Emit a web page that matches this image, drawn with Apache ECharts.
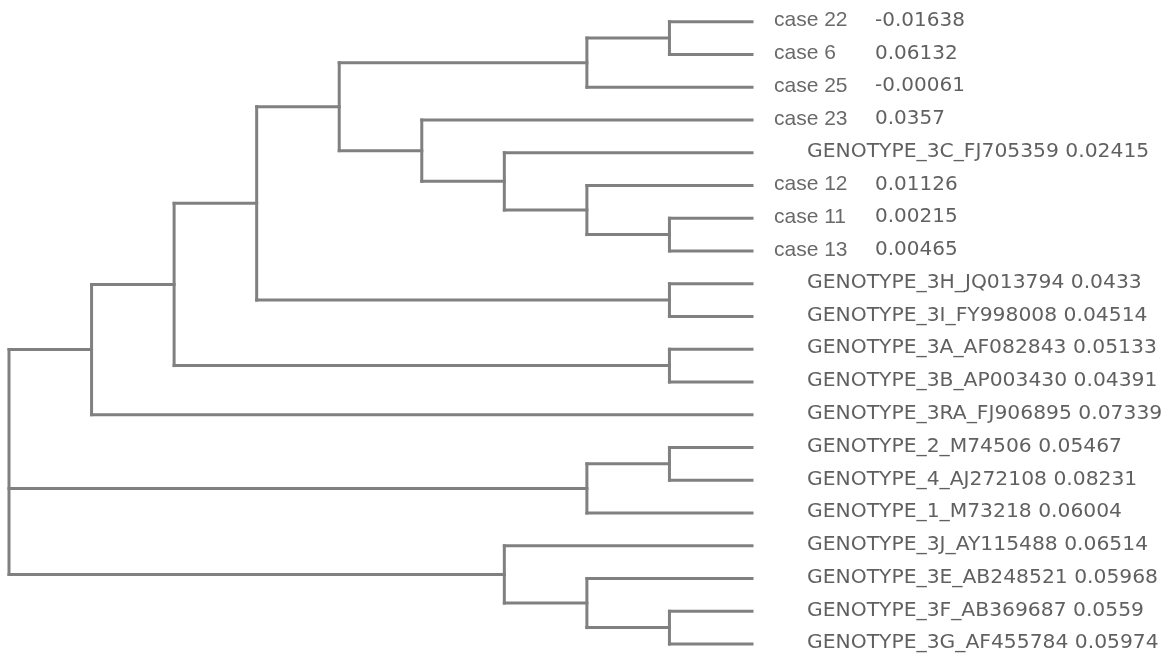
<!DOCTYPE html>
<html>
<head>
<meta charset="utf-8">
<script src="https://cdn.jsdelivr.net/npm/echarts@6/dist/echarts.min.js"></script>
<style>
html,body{margin:0;padding:0;background:#fff;}
#chart{width:1173px;height:654px;}
</style>
</head>
<body>
<div id="chart"></div>
<script>
// ---- data ----
const leafNames = ['case 22', 'case 6', 'case 25', 'case 23', 'GENOTYPE_3C_FJ705359',
  'case 12', 'case 11', 'case 13', 'GENOTYPE_3H_JQ013794', 'GENOTYPE_3I_FY998008',
  'GENOTYPE_3A_AF082843', 'GENOTYPE_3B_AP003430', 'GENOTYPE_3RA_FJ906895',
  'GENOTYPE_2_M74506', 'GENOTYPE_4_AJ272108', 'GENOTYPE_1_M73218',
  'GENOTYPE_3J_AY115488', 'GENOTYPE_3E_AB248521', 'GENOTYPE_3F_AB369687', 'GENOTYPE_3G_AF455784'];
const leafValues = [-0.01638, 0.06132, -0.00061, 0.0357, 0.02415,
  0.01126, 0.00215, 0.00465, 0.0433, 0.04514,
  0.05133, 0.04391, 0.07339,
  0.05467, 0.08231, 0.06004,
  0.06514, 0.05968, 0.0559, 0.05974];
// tree topology: nested arrays of leaf indices
const treeA = [[[[[[0, 1], 2], [3, [4, [5, [6, 7]]]]], [8, 9]], [10, 11]], 12];
const treeB = [[13, 14], 15];
const treeC = [16, [17, [18, 19]]];
const tree = [treeA, treeB, treeC];

// ---- layout from topology (height = longest path to a leaf) ----
const segments = [];
function layout(node) {
  if (typeof node === 'number') return { h: 0, y: node };
  const kids = node.map(layout);
  const h = Math.max.apply(null, kids.map(k => k.h)) + 1;
  const y = (kids[0].y + kids[kids.length - 1].y) / 2;
  segments.push([h, kids[0].y, h, kids[kids.length - 1].y]);
  kids.forEach(k => segments.push([h, k.y, k.h, k.y]));
  return { h, y };
}
const rootInfo = layout(tree);

const chart = echarts.init(document.getElementById('chart'));
const lineColor = '#808080';

const leafData = leafNames.map((n, i) => ({
  value: [0, i],
  label: { offset: [n.indexOf('case') === 0 ? 22 : 55, -1] }
}));

chart.setOption({
  animation: false,
  backgroundColor: '#ffffff',
  grid: { left: 9, right: 421, top: 21.7, bottom: 10, containLabel: false },
  xAxis: { type: 'value', min: 0, max: rootInfo.h, inverse: true, show: false },
  yAxis: { type: 'value', min: 0, max: leafNames.length - 1, inverse: true, show: false },
  series: [
    {
      type: 'custom',
      silent: true,
      clip: false,
      data: segments,
      renderItem: function (params, api) {
        const p1 = api.coord([api.value(0), api.value(1)]);
        const p2 = api.coord([api.value(2), api.value(3)]);
        return {
          type: 'line',
          shape: { x1: p1[0], y1: p1[1], x2: p2[0], y2: p2[1] },
          style: { stroke: lineColor, lineWidth: 3, lineCap: 'square' }
        };
      }
    },
    {
      type: 'scatter',
      silent: true,
      symbolSize: 0,
      data: leafData,
      label: {
        show: true,
        position: 'right',
        distance: 0,
        formatter: function (p) {
          const i = p.dataIndex;
          const n = leafNames[i];
          if (n.indexOf('case') === 0) {
            return '{c|' + n + '}{v|' + leafValues[i] + '}';
          }
          return '{g|' + n + ' ' + leafValues[i] + '}';
        },
        rich: {
          c: { fontFamily: 'Liberation Sans', fontSize: 21, color: '#444444', width: 101 },
          v: { fontFamily: 'DejaVu Sans', fontSize: 20, color: '#383838' },
          g: { fontFamily: 'DejaVu Sans', fontSize: 20.3, color: '#383838' }
        }
      }
    }
  ]
});
</script>
</body>
</html>
